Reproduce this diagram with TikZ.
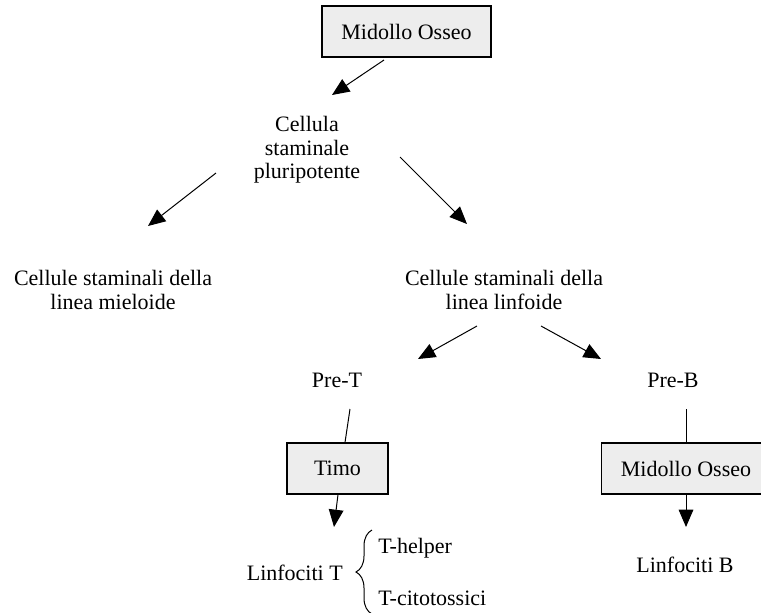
\documentclass[tikz,border=0pt]{standalone}
\usepackage{fontspec}
\setmainfont{Liberation Serif}
\usetikzlibrary{arrows.meta,decorations.pathreplacing}
\definecolor{boxgray}{HTML}{EDEDED}
\begin{document}
\begin{tikzpicture}[x=0.75pt,y=-0.75pt,
  lbl/.style={font=\fontsize{16.5}{17.5}\selectfont, align=center, inner sep=0pt},
  boxn/.style={lbl, draw, fill=boxgray, line width=0.8pt, minimum height=38.25pt},
  arr/.style={-{Triangle[length=13pt,width=11pt]}, line width=0.75pt},
  conn/.style={line width=0.75pt}]
\useasboundingbox (0,0) rectangle (761,612);
% nodes
\node[boxn, minimum width=126.75pt] (mo1) at (406.5,31.5) {Midollo Osseo};
\node[lbl] (csp) at (307,150) {Cellula\\staminale\\pluripotente};
\node[lbl] (mie) at (113,290) {Cellule staminali della\\linea mieloide};
\node[lbl] (lin) at (504,290) {Cellule staminali della\\linea linfoide};
\node[lbl] (pret) at (337,380) {Pre-T};
\node[lbl] (preb) at (673,380) {Pre-B};
\node[boxn, minimum width=75.75pt] (timo) at (337.5,468.5) {Timo};
\node[boxn, minimum width=126.75pt] (mo2) at (686,468.5) {Midollo Osseo};
\node[lbl, anchor=east] (lt) at (343,573) {Linfociti T};
\node[lbl, anchor=west] (th) at (378,548) {T-helper};
\node[lbl, anchor=west] (tc) at (378,598) {T-citotossici};
\node[lbl] (lb) at (685,565) {Linfociti B};
% connector end points
\coordinate (a1s) at (384,60);   \coordinate (a1e) at (332,95);
\coordinate (a2s) at (216,173);  \coordinate (a2e) at (148,226);
\coordinate (a3s) at (400,157);  \coordinate (a3e) at (467,224);
\coordinate (a4s) at (477,326);  \coordinate (a4e) at (418,359);
\coordinate (a5s) at (541,326);  \coordinate (a5e) at (601,359);
\coordinate (l1s) at (350,409);
\coordinate (l2s) at (686,409);
\coordinate (a6e) at (334,527);
\coordinate (a7e) at (686,527);
\coordinate (bb) at (372,614);   \coordinate (bt) at (372,530);
% connectors
\draw[arr] (a1s) -- (a1e);
\draw[arr] (a2s) -- (a2e);
\draw[arr] (a3s) -- (a3e);
\draw[arr] (a4s) -- (a4e);
\draw[arr] (a5s) -- (a5e);
\draw[conn] (l1s) -- (timo.north -| 345,0);
\draw[conn] (l2s) -- (mo2.north);
\draw[arr] (timo.south -| 338,0) -- (a6e);
\draw[arr] (mo2.south) -- (a7e);
\draw[conn, decorate, decoration={brace, amplitude=12pt}] (bb) -- (bt);
\end{tikzpicture}
\end{document}
